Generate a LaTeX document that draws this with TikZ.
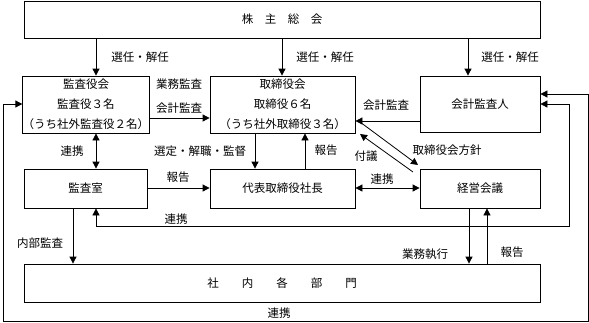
\documentclass[tikz,border=0pt]{standalone}
\usepackage{fontspec}
\newfontfamily\jp{Noto Sans CJK JP}
\usetikzlibrary{arrows.meta}
\begin{document}
\begin{tikzpicture}[x=1pt,y=-1pt,
 box/.style={draw,line width=0.8pt,inner sep=0pt,font=\jp\fontsize{11.5}{20}\selectfont,align=center},
 lbl/.style={inner sep=0pt,font=\jp\fontsize{11.5}{14}\selectfont},
 arr/.style={line width=0.8pt,-{Triangle[length=7pt,width=7pt]}},
 darr/.style={line width=0.8pt,{Triangle[length=7pt,width=7pt]}-{Triangle[length=7pt,width=7pt]}}]
\useasboundingbox (0,0) rectangle (589,322);
% boxes
\node[box,minimum width=516pt,minimum height=37pt] (kabu) at (282,19.5) {株　主　総　会};
\node[box,minimum width=124pt,minimum height=57pt] (kansayaku) at (86,104.5) {監査役会\\監査役３名\\（うち社外監査役２名）};
\node[box,minimum width=145pt,minimum height=57pt] (tori) at (282.5,104.5) {取締役会\\取締役６名\\（うち社外取締役３名）};
\node[box,minimum width=120pt,minimum height=56pt] (kaikei) at (480,104) {会計監査人};
\node[box,minimum width=123pt,minimum height=39pt] (kansashitsu) at (85.5,188.5) {監査室};
\node[box,minimum width=145pt,minimum height=39pt] (shacho) at (282.5,188.5) {代表取締役社長};
\node[box,minimum width=120pt,minimum height=39pt] (keiei) at (480,188.5) {経営会議};
\node[box,minimum width=516pt,minimum height=38pt] (bumon) at (282,283) {社　　内　　各　　部　　門};
% helper coordinates
\coordinate (xA) at (96,0);
\coordinate (xB) at (282,0);
\coordinate (xC) at (468,0);
\coordinate (xD) at (255,0);
\coordinate (xE) at (305,0);
\coordinate (xF) at (73,0);
\coordinate (xG) at (469,0);
\coordinate (xH) at (487,0);
\coordinate (yA) at (0,118);
\coordinate (yB) at (0,121);
\coordinate (yC) at (0,188);
\coordinate (yD) at (0,94);
\coordinate (yE) at (0,104);
\coordinate (oL1) at (3,104);
\coordinate (oL2) at (3,321);
\coordinate (oR1) at (588,321);
\coordinate (oR2) at (588,94);
\coordinate (iB1) at (96,226);
\coordinate (iB2) at (569,226);
\coordinate (iB3) at (569,104);
\coordinate (d1s) at (360,122);
\coordinate (d1e) at (418,165);
\coordinate (d2s) at (413,172);
\coordinate (d2e) at (360,134);
% shareholders arrows
\draw[arr] (kabu.south -| xA) -- (kansayaku.north -| xA);
\draw[arr] (kabu.south -| xB) -- (tori.north -| xB);
\draw[arr] (kabu.south -| xC) -- (kaikei.north -| xC);
\node[lbl] (l1) at (140,57) {選任・解任};
\node[lbl] (l2) at (325,57) {選任・解任};
\node[lbl] (l3) at (510,57) {選任・解任};
% audit board -> board
\draw[arr] (kansayaku.east |- yA) -- (tori.west |- yA);
\node[lbl] (l4) at (179,84) {業務監査};
\node[lbl] (l5) at (179,108) {会計監査};
% accounting auditor -> board
\draw[arr] (kaikei.west |- yB) -- (tori.east |- yB);
\node[lbl] (l6) at (386,105) {会計監査};
% audit board <-> audit office
\draw[darr] (kansayaku.south -| xA) -- (kansashitsu.north -| xA);
\node[lbl] (l7) at (72,151) {連携};
% board -> president
\draw[arr] (tori.south -| xD) -- (shacho.north -| xD);
\node[lbl] (l8) at (200,151) {選定・解職・監督};
\draw[arr] (shacho.north -| xE) -- (tori.south -| xE);
\node[lbl] (l9) at (326,150) {報告};
% diagonals
\draw[arr] (d1s) -- (d1e);
\draw[arr] (d2s) -- (d2e);
\node[lbl] (l10) at (366,156) {付議};
\node[lbl] (l11) at (447,150) {取締役会方針};
% audit office -> president
\draw[arr] (kansashitsu.east |- yC) -- (shacho.west |- yC);
\node[lbl] (l12) at (178,177) {報告};
% president <-> management
\draw[darr] (shacho.east |- yC) -- (keiei.west |- yC);
\node[lbl] (l13) at (382,179) {連携};
% internal audit
\draw[arr] (kansashitsu.south -| xF) -- (bumon.north -| xF);
\node[lbl] (l14) at (40,243) {内部監査};
% business execution
\draw[arr] (keiei.south -| xG) -- (bumon.north -| xG);
\node[lbl] (l15) at (425,254) {業務執行};
\draw[arr] (bumon.north -| xH) -- (keiei.south -| xH);
\node[lbl] (l16) at (512,252) {報告};
% inner loop
\draw[darr] (kansashitsu.south -| iB1) -- (iB1) -- (iB2) -- (iB3) -- (kaikei.east |- yE);
\node[lbl] (l17) at (176,219) {連携};
% outer loop
\draw[darr] (kansayaku.west |- yE) -- (oL1) -- (oL2) -- (oR1) -- (oR2) -- (kaikei.east |- yD);
\node[lbl] (l18) at (279,313) {連携};
\end{tikzpicture}
\end{document}
